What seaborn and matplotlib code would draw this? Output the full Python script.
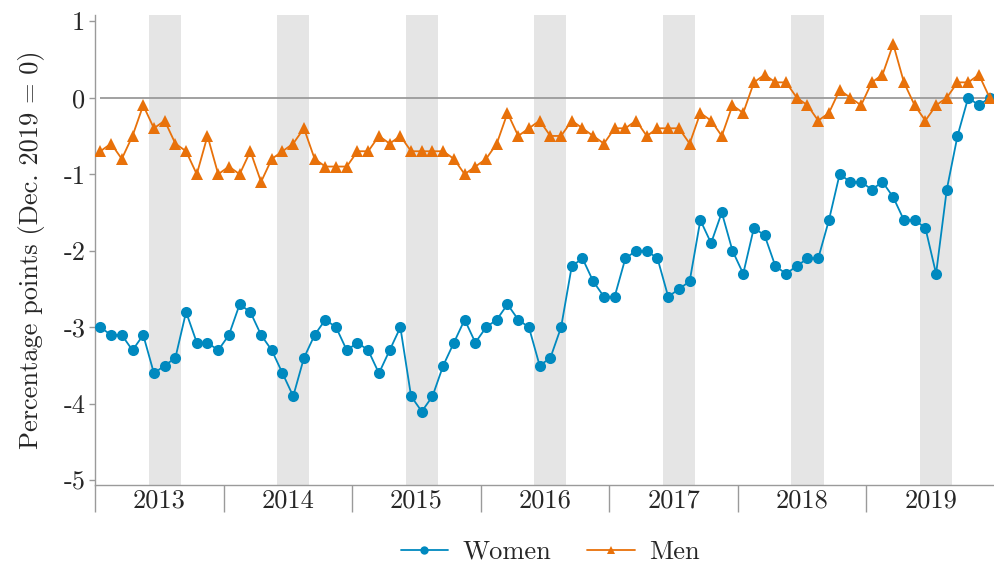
import numpy as np
import pandas as pd
import matplotlib
matplotlib.use("Agg")
import matplotlib.pyplot as plt
import seaborn as sns

years = [2013, 2014, 2015, 2016, 2017, 2018, 2019]
year_labels = ["2013", "2014", "2015", "2016", "2017", "2018", "2019"]
ytick_values = [-5, -4, -3, -2, -1, 0, 1]
ytick_labels = ["-5", "-4", "-3", "-2", "-1", "0", "1"]

women = [
    -3.0, -3.1, -3.1, -3.3, -3.1, -3.6, -3.5, -3.4, -2.8, -3.2, -3.2, -3.3,
    -3.1, -2.7, -2.8, -3.1, -3.3, -3.6, -3.9, -3.4, -3.1, -2.9, -3.0, -3.3,
    -3.2, -3.3, -3.6, -3.3, -3.0, -3.9, -4.1, -3.9, -3.5, -3.2, -2.9, -3.2,
    -3.0, -2.9, -2.7, -2.9, -3.0, -3.5, -3.4, -3.0, -2.2, -2.1, -2.4, -2.6,
    -2.6, -2.1, -2.0, -2.0, -2.1, -2.6, -2.5, -2.4, -1.6, -1.9, -1.5, -2.0,
    -2.3, -1.7, -1.8, -2.2, -2.3, -2.2, -2.1, -2.1, -1.6, -1.0, -1.1, -1.1,
    -1.2, -1.1, -1.3, -1.6, -1.6, -1.7, -2.3, -1.2, -0.5, 0.0, -0.1, 0.0,
]
men = [
    -0.7, -0.6, -0.8, -0.5, -0.1, -0.4, -0.3, -0.6, -0.7, -1.0, -0.5, -1.0,
    -0.9, -1.0, -0.7, -1.1, -0.8, -0.7, -0.6, -0.4, -0.8, -0.9, -0.9, -0.9,
    -0.7, -0.7, -0.5, -0.6, -0.5, -0.7, -0.7, -0.7, -0.7, -0.8, -1.0, -0.9,
    -0.8, -0.6, -0.2, -0.5, -0.4, -0.3, -0.5, -0.5, -0.3, -0.4, -0.5, -0.6,
    -0.4, -0.4, -0.3, -0.5, -0.4, -0.4, -0.4, -0.6, -0.2, -0.3, -0.5, -0.1,
    -0.2, 0.2, 0.3, 0.2, 0.2, 0.0, -0.1, -0.3, -0.2, 0.1, 0.0, -0.1,
    0.2, 0.3, 0.7, 0.2, -0.1, -0.3, -0.1, 0.0, 0.2, 0.2, 0.3, 0.0,
]
months = np.arange(len(women))

sns.set_theme(style="white")
plt.rcParams["font.family"] = ["cmr10", "DejaVu Serif"]
plt.rcParams["axes.unicode_minus"] = False
plt.rcParams["mathtext.fontset"] = "cm"
plt.rcParams["axes.formatter.use_mathtext"] = True

df = pd.DataFrame({
    "month": np.concatenate([months, months]),
    "value": women + men,
    "group": ["Women"] * len(women) + ["Men"] * len(men),
})

FS = 19
GREY = "#9a9a9a"
fig = plt.figure(figsize=(9.95, 5.64), dpi=100)
ax = fig.add_axes([95 / 995, 1 - 485 / 564, 1 - 95 / 995, (485 - 15) / 564])

for y in years:
    k = y - years[0]
    ax.axvspan(12 * k + 4.5, 12 * k + 7.5, color="#e5e5e5", lw=0, zorder=0)

ax.hlines(0, months[0], months[-1], color=GREY, lw=1.3, zorder=1)

sns.lineplot(
    data=df, x="month", y="value", hue="group", style="group",
    hue_order=["Women", "Men"], style_order=["Women", "Men"],
    markers={"Women": "o", "Men": "^"}, dashes=False,
    palette={"Women": "#0089bf", "Men": "#e8710a"},
    markersize=8, markeredgewidth=0, linewidth=1.3, ax=ax, zorder=3,
)

ax.set_xlim(-0.5, 83.22)
ax.set_ylim(-5.06, 1.08)

major_x = np.arange(-0.5, 84, 12)
ax.set_xticks(major_x)
ax.set_xticklabels([""] * len(major_x))
ax.set_xticks([12 * (y - years[0]) + 5.5 for y in years], minor=True)
ax.set_xticklabels(year_labels, minor=True, fontsize=FS)
ax.tick_params(axis="x", which="major", length=19.5, width=1, color=GREY, direction="out", bottom=True)
ax.tick_params(axis="x", which="minor", length=0, pad=2.5, bottom=True)

ax.set_yticks(ytick_values)
ax.set_yticklabels(ytick_labels, fontsize=FS)
ax.tick_params(axis="y", which="major", length=4, width=1, color=GREY, direction="out", left=True, pad=3)

for s in ["top", "right"]:
    ax.spines[s].set_visible(False)
for s in ["left", "bottom"]:
    ax.spines[s].set_color(GREY)
    ax.spines[s].set_linewidth(1)

ax.set_xlabel("")
ax.set_ylabel("Percentage points (Dec. 2019 = 0)", fontsize=FS, labelpad=13)

handles, labels = ax.get_legend_handles_labels()
ax.get_legend().remove()
fig.legend(handles, labels, loc="center", bbox_to_anchor=(0.553, 1 - 552 / 564),
           ncol=2, frameon=False, fontsize=FS, columnspacing=1.35, handlelength=1.8,
           handletextpad=0.55, markerscale=0.75, borderpad=0)

fig.savefig("out.png", dpi=100)
